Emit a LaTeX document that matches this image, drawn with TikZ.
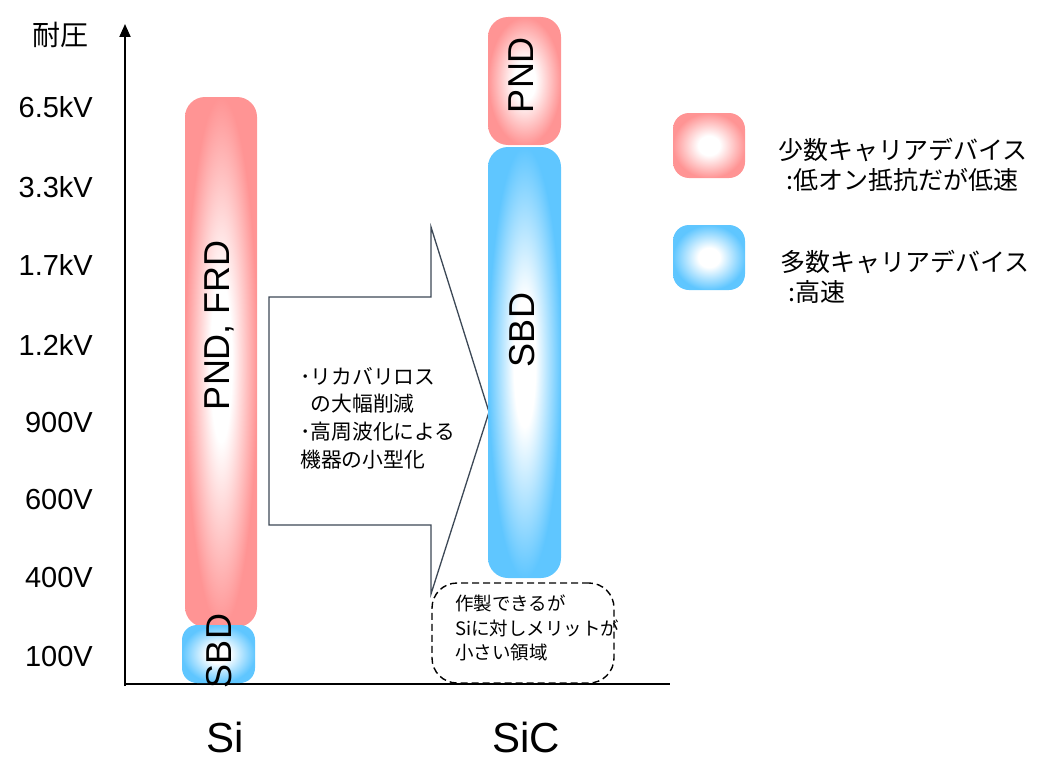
\documentclass[tikz,border=0pt]{standalone}
\usepackage{fontspec}
\setmainfont{Liberation Sans}
\newfontfamily\jp{Noto Sans CJK JP}
\usetikzlibrary{arrows.meta}
\definecolor{arrowc}{RGB}{60,72,86}
% elliptical "path" gradient: white centre, coloured edges
\pgfdeclarefunctionalshading{pinkrect}{\pgfpointorigin}{\pgfpoint{100bp}{100bp}}{}{
 50 sub 25 div dup mul exch 50 sub 25 div dup mul add sqrt
 0.3 sub 0.7 div
 dup abs add 2 div
 dup 1 sub abs neg add 1 add 2 div
 dup dup 0 mul 1 exch sub
 3 1 roll 0.42 mul 1 exch sub
 exch 0.42 mul 1 exch sub
}
\pgfdeclarefunctionalshading{bluerect}{\pgfpointorigin}{\pgfpoint{100bp}{100bp}}{}{
 50 sub 25 div dup mul exch 50 sub 25 div dup mul add sqrt
 0.3 sub 0.7 div
 dup abs add 2 div
 dup 1 sub abs neg add 1 add 2 div
 dup dup 0.627 mul 1 exch sub
 3 1 roll 0.224 mul 1 exch sub
 exch 0 mul 1 exch sub
}
\tikzset{
 axisline/.style={line width=2pt, black},
 vlabel/.style={anchor=east, inner sep=0pt, font=\fontsize{29}{34}\selectfont},
 bartext/.style={rotate=90, inner sep=0pt, font=\fontsize{36}{40}\selectfont},
 barbox/.style={shade, inner sep=0pt, rounded corners=20pt},
 pinkbox/.style={barbox, shading=pinkrect},
 bluebox/.style={barbox, shading=bluerect},
 bigarrow/.style={draw=arrowc, line width=1.3pt, fill=white, line join=miter},
 dashbox/.style={draw, line width=1.4pt, dash pattern=on 7pt off 4pt, rounded corners=25pt, inner sep=0pt},
 jptext/.style={anchor=west, inner sep=0pt, align=left},
 mattext/.style={inner sep=0pt, font=\fontsize{42}{46}\selectfont},
}
\begin{document}
\begin{tikzpicture}[x=1pt,y=-1pt]
\useasboundingbox (0,0) rectangle (1043,760);
% axes
\coordinate (o) at (125,684);
\coordinate (ytop) at (125,24);
\coordinate (xend) at (670,684);
\draw[axisline, -{Triangle[length=13pt,width=11pt]}] (125,686) -- (ytop);
\draw[axisline] (o) -- (xend);
\node[inner sep=0pt, font=\jp\fontsize{28}{32}\selectfont] (ylab) at (60,35) {耐圧};
% voltage labels
\node[vlabel] (v1) at (93,107) {6.5kV};
\node[vlabel] (v2) at (93,187) {3.3kV};
\node[vlabel] (v3) at (93,265) {1.7kV};
\node[vlabel] (v4) at (93,345) {1.2kV};
\node[vlabel] (v5) at (93,423) {900V};
\node[vlabel] (v6) at (93,500) {600V};
\node[vlabel] (v7) at (93,578) {400V};
\node[vlabel] (v8) at (93,657) {100V};
% big arrow
\draw[bigarrow] (269,297) -- (431,297) -- (431,227) -- (489,412) -- (431,594) -- (431,525) -- (269,525) -- cycle;
\node[jptext, font=\jp\fontsize{20.8}{27.7}\selectfont] (merit) at (300,418)
 {･リカバリロス\\\hspace*{0.5em}の大幅削減\\･高周波化による\\機器の小型化};
% Si bars
\node[pinkbox, minimum width=72pt, minimum height=530pt] (sipnd) at (221,362) {};
\node[bluebox, rounded corners=15pt, minimum width=73pt, minimum height=58pt] (sisbd) at (218.5,654) {};
\node[bartext] (sipndtxt) at (219,325) {PND, FRD};
\node[bartext] (sisbdtxt) at (219,651) {SBD};
% SiC bars
\node[pinkbox, minimum width=73pt, minimum height=128pt] (sicpnd) at (524.5,81) {};
\node[bluebox, minimum width=73pt, minimum height=431pt] (sicsbd) at (524.5,362.5) {};
\node[bartext] (sicpndtxt) at (521,75) {PND};
\node[bartext] (sicsbdtxt) at (522,330) {SBD};
% dashed note
\node[dashbox, minimum width=182pt, minimum height=100pt] (region) at (523,633) {};
\node[jptext, font=\jp\fontsize{18.5}{24.5}\selectfont] (regiontxt) at (455,628)
 {作製できるが\\Siに対しメリットが\\小さい領域};
% legend
\node[pinkbox, rounded corners=16pt, minimum width=72pt, minimum height=65pt] (legp) at (709,145.5) {};
\node[bluebox, rounded corners=16pt, minimum width=72pt, minimum height=65pt] (legb) at (709,257.5) {};
\node[jptext, font=\jp\fontsize{25}{30}\selectfont] (legptxt) at (778,165)
 {少数キャリアデバイス\\\hspace*{0.35em}:低オン抵抗だが低速};
\node[jptext, font=\jp\fontsize{25}{30}\selectfont] (legbtxt) at (780,277)
 {多数キャリアデバイス\\\hspace*{0.35em}:高速};
% material labels
\node[mattext] (si) at (225,737) {Si};
\node[mattext] (sic) at (526,737) {SiC};
\end{tikzpicture}
\end{document}
